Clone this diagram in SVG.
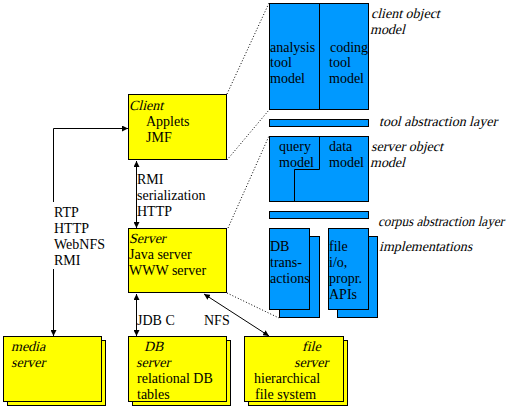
<svg xmlns="http://www.w3.org/2000/svg" width="514" height="411" viewBox="0 0 514 411">
<defs>
<style>
text{font-family:"Liberation Serif","Times New Roman",serif;font-size:14px;fill:#000}
.y{fill:#ffff00;stroke:#000;stroke-width:1}
.b{fill:#0099ff;stroke:#000;stroke-width:1}
.ln{fill:none;stroke:#000;stroke-width:1}
.dot{fill:none;stroke:#000;stroke-width:1;stroke-dasharray:1 2}
</style>
<marker id="ah" viewBox="0 0 6 6" refX="6" refY="3" markerWidth="6" markerHeight="6" markerUnits="userSpaceOnUse" orient="auto-start-reverse">
<path d="M0,0 L6,3 L0,6 z" fill="#000"/>
</marker>
</defs>
<rect width="514" height="411" fill="#fff"/>

<g id="connectors">
<path class="ln" d="M53.5,202 V128.5 H128" marker-end="url(#ah)"/>
<path class="ln" d="M53.5,269 V336" marker-end="url(#ah)"/>
<path class="ln" d="M136.5,161 V228" marker-start="url(#ah)" marker-end="url(#ah)"/>
<path class="ln" d="M136.5,294 V336" marker-start="url(#ah)" marker-end="url(#ah)"/>
<path class="ln" d="M204,294 L269,336" marker-start="url(#ah)" marker-end="url(#ah)"/>
<path class="dot" d="M227,94 L269,3"/>
<path class="dot" d="M227,160 L269,110"/>
<path class="dot" d="M228,228 L269,136"/>
<path class="dot" d="M227,293 L279,318"/>
<text x="54" y="217">RTP</text>
<text x="54" y="233">HTTP</text>
<text x="54" y="249">WebNFS</text>
<text x="54" y="265">RMI</text>
<text x="137" y="184">RMI</text>
<text x="137" y="200">serialization</text>
<text x="137" y="216">HTTP</text>
<text x="137" y="325">JDB C</text>
<text x="204" y="325">NFS</text>
</g>

<g id="client">
<rect class="y" x="128.5" y="94.5" width="98" height="65"/>
<text transform="translate(129,110) skewX(-14)">Client</text>
<text x="146" y="126">Applets</text>
<text x="146" y="142">JMF</text>
</g>

<g id="server">
<rect class="y" x="128.5" y="228.5" width="98" height="64"/>
<text transform="translate(129,243) skewX(-14)">Server</text>
<text x="129" y="259">Java server</text>
<text x="129" y="275">WWW server</text>
</g>

<g id="media-server">
<rect class="y" x="7.5" y="340.5" width="98" height="65"/>
<rect class="y" x="3.5" y="336.5" width="98" height="65"/>
<text transform="translate(11,351) skewX(-14)">media</text>
<text transform="translate(11,367) skewX(-14)">server</text>
</g>

<g id="db-server">
<rect class="y" x="132.5" y="340.5" width="98" height="65"/>
<rect class="y" x="128.5" y="336.5" width="98" height="65"/>
<text transform="translate(144,351) skewX(-14)">DB</text>
<text transform="translate(136,367) skewX(-14)">server</text>
<text x="137" y="383">relational DB</text>
<text x="137" y="399">tables</text>
</g>

<g id="file-server">
<rect class="y" x="248.5" y="340.5" width="99" height="65"/>
<rect class="y" x="244.5" y="336.5" width="99" height="65"/>
<text transform="translate(302,351) skewX(-14)">file</text>
<text transform="translate(294,367) skewX(-14)">server</text>
<text x="254" y="383">hierarchical</text>
<text x="255" y="399">file system</text>
</g>

<g id="client-object-model">
<rect class="b" x="269.5" y="3.5" width="99" height="106"/>
<path class="ln" d="M319.5,3.5 V109.5"/>
<text x="270" y="52">analysis</text>
<text x="270" y="67">tool</text>
<text x="270" y="83">model</text>
<text x="330" y="52">coding</text>
<text x="329" y="67">tool</text>
<text x="329" y="83">model</text>
<text transform="translate(371,18) skewX(-14)">client object</text>
<text transform="translate(370,34) skewX(-14)">model</text>
</g>

<g id="tool-abstraction-layer">
<rect class="b" x="269.5" y="119.5" width="99" height="7"/>
<text transform="translate(379,126) skewX(-14)">tool abstraction layer</text>
</g>

<g id="server-object-model">
<rect class="b" x="269.5" y="136.5" width="99" height="65"/>
<path class="ln" d="M319.5,136.5 V169.5 H294.5 V201.5"/>
<text x="279" y="151">query</text>
<text x="279" y="167">model</text>
<text x="329" y="151">data</text>
<text x="329" y="167">model</text>
<text transform="translate(371,151) skewX(-14)">server object</text>
<text transform="translate(370,167) skewX(-14)">model</text>
</g>

<g id="corpus-abstraction-layer">
<rect class="b" x="269.5" y="211.5" width="99" height="7"/>
<text transform="translate(378,226) skewX(-14)" textLength="126" lengthAdjust="spacingAndGlyphs">corpus abstraction layer</text>
</g>

<g id="db-transactions">
<rect class="b" x="279.5" y="236.5" width="40" height="81"/>
<rect class="b" x="269.5" y="228.5" width="40" height="81"/>
<text x="270" y="251">DB</text>
<text x="270" y="267">trans-</text>
<text x="270" y="283">actions</text>
</g>

<g id="file-io">
<rect class="b" x="337.5" y="236.5" width="40" height="81"/>
<rect class="b" x="328.5" y="228.5" width="40" height="81"/>
<text x="329" y="251">file</text>
<text x="329" y="267">i/o,</text>
<text x="329" y="283">propr.</text>
<text x="329" y="299">APIs</text>
</g>

<g id="implementations">
<text transform="translate(379,251) skewX(-14)">implementations</text>
</g>
</svg>
